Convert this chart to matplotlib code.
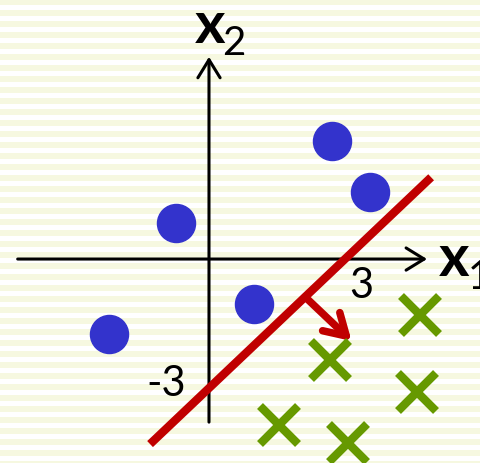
import numpy as np
import matplotlib
matplotlib.use("Agg")
import matplotlib.pyplot as plt
from matplotlib.patches import Rectangle

# data
pos_x = [2.72, 3.55, -0.73, 0.99, -2.21]
pos_y = [2.74, 1.56, 0.84, -1.05, -1.74]
neg_x = [4.66, 2.67, 4.59, 1.55, 3.07]
neg_y = [-1.30, -2.35, -3.09, -3.86, -4.28]
line_x = [-1.30, 4.90]          # decision boundary x2 = x1 - 3
w = [1.0, -1.0]
b = -3.0
tick_labels = ["3", "-3"]

W, H = 481, 463
fig = plt.figure(figsize=(W / 100, H / 100), dpi=100)
ax = fig.add_axes([0, 0, 1, 1])
ax.set_xlim(-4.61, 6.0)
ax.set_ylim(-4.74, 6.02)
ax.axis('off')

# striped background
period, band = 11, 6
y = -1
while y < H:
    ax.add_patch(Rectangle((0, 1 - (y + band) / H), 1, band / H,
                           transform=ax.transAxes, facecolor='#F6F8E0',
                           edgecolor='none', zorder=0))
    y += period

# axes with open arrowheads
aprops = dict(arrowstyle='->,head_length=0.65,head_width=0.4', lw=2.2,
              color='black', mutation_scale=20, shrinkA=0, shrinkB=0)
ax.annotate('', xy=(4.81, 0), xytext=(-4.22, 0), arrowprops=aprops)
ax.annotate('', xy=(0, 4.70), xytext=(0, -3.79), arrowprops=aprops)

# decision boundary
lx = np.array(line_x)
ly = -(w[0] * lx + b) / w[1]
ax.plot(lx, ly, color='#C00000', lw=6.0, solid_capstyle='butt', zorder=3)

# normal vector
x0 = 2.12
y0 = -(w[0] * x0 + b) / w[1]
nv = np.array(w) / np.linalg.norm(w) * 1.45
ax.annotate('', xy=(x0 + nv[0], y0 + nv[1]), xytext=(x0, y0),
            arrowprops=dict(arrowstyle='->,head_length=0.75,head_width=0.45',
                            lw=5.4, color='#C00000', mutation_scale=20,
                            shrinkA=0, shrinkB=0), zorder=3)

# points
ax.plot(pos_x, pos_y, 'o', color='#3333CC', markersize=27.4, zorder=4)
ax.plot(neg_x, neg_y, 'x', color='#669900', markersize=28, mew=6.0, zorder=4)

# labels
fnt = 'Lato'
ax.text(0.02, 5.40, 'x', fontsize=42, fontweight='bold', family=fnt,
        ha='center', va='center')
ax.text(0.55, 5.02, '2', fontsize=29, family=fnt, ha='center', va='center')
ax.text(5.41, 0.0, 'x', fontsize=42, fontweight='bold', family=fnt,
        ha='center', va='center')
ax.text(5.70, -0.44, '1', fontsize=29, family=fnt, ha='left', va='center')
ax.text(3.36, -0.63, tick_labels[0], fontsize=30, family=fnt, ha='center', va='center')
ax.text(-0.95, -2.91, tick_labels[1], fontsize=30, family=fnt, ha='center', va='center')

fig.savefig('out.png', dpi=100)
